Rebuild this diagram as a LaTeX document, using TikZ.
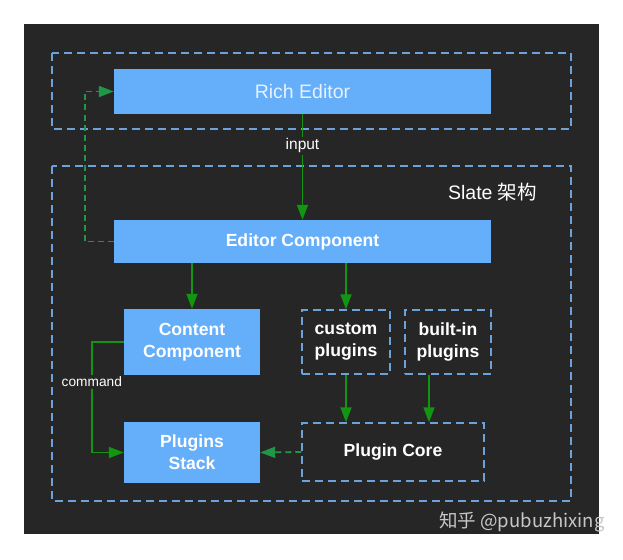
\documentclass[tikz,border=0pt]{standalone}
\usepackage{fontspec}
\setmainfont{Liberation Sans}
\newfontfamily\cjkfont{Noto Sans CJK SC}
\usepackage{xcolor}
\usetikzlibrary{arrows.meta,calc}

\definecolor{bgdark}{RGB}{38,38,38}
\definecolor{boxblue}{RGB}{100,174,250}
\definecolor{dashblue}{RGB}{108,162,218}
\definecolor{flowgreen}{RGB}{18,150,18}
\definecolor{backgreen}{RGB}{32,150,72}
\definecolor{softwhite}{RGB}{230,242,255}

\tikzset{
  bluebox/.style={fill=boxblue, draw=none, text=white, inner sep=0pt, align=center,
    font=\bfseries\fontsize{17.6}{22}\selectfont},
  dashbox/.style={draw=dashblue, line width=1.5, dash pattern=on 8pt off 5pt, text=white,
    inner sep=0pt, align=center, font=\bfseries\fontsize{17.6}{22}\selectfont},
  frame/.style={draw=dashblue, line width=1.5, dash pattern=on 8pt off 5pt},
  flow/.style={draw=flowgreen, line width=1.8, -{Triangle[length=15pt,width=11pt]}},
  backflow/.style={draw=backgreen, line width=1.8, dash pattern=on 6pt off 4pt,
    -{Triangle[length=15pt,width=11pt]}},
  lbl/.style={fill=bgdark, text=white, inner sep=2pt}
}

\begin{document}
\begin{tikzpicture}[x=1pt,y=1pt,yscale=-1]
\useasboundingbox (0,0) rectangle (623,559);

%Shape: Rectangle (background)
\draw [fill=bgdark, draw=black!85, line width=1] (24,25) rectangle (598,533);
%Shape: Rectangle (top frame)
\draw [frame] (52,53) rectangle (571,129);
%Shape: Rectangle (Slate frame)
\draw [frame] (52,166) rectangle (571,501);

% Text Node
\node [text=white, font=\fontsize{19.5}{22}\selectfont] (slate) at (492.5,192) {Slate {\cjkfont 架构}};

% Boxes
\node [bluebox, minimum width=377, minimum height=45, font=\fontsize{19.5}{22}\selectfont, text=softwhite] (rich) at (302.5,91.5) {Rich Editor};
\node [bluebox, minimum width=377, minimum height=43] (editor) at (302.5,241.5) {Editor Component};
\node [bluebox, minimum width=136, minimum height=66] (content) at (192,342) {Content\\Component};
\node [bluebox, minimum width=136, minimum height=61] (stack) at (192,452.5) {Plugins\\Stack};
\node [dashbox, minimum width=88, minimum height=64] (custom) at (346,342) {custom\\plugins};
\node [dashbox, minimum width=86, minimum height=64] (builtin) at (448,342) {built-in\\plugins};
\node [dashbox, minimum width=182, minimum height=58] (core) at (393,452) {Plugin Core};
\coordinate (binout) at ([xshift=-19pt]builtin.south);

%Straight Lines
\draw [flow] (rich.south) -- node [lbl, pos=0.3, font=\fontsize{15.5}{17}\selectfont] {input} (editor.north);
\draw [flow] (editor.south -| content.north) -- (content.north);
\draw [flow] (editor.south -| custom.north) -- (custom.north);
\draw [flow] (custom.south) -- (core.north -| custom.south);
\draw [flow] (binout) -- (core.north -| binout);
\draw [flow] (content.west) -- ++(-32,0) |- node [lbl, pos=0.18, font=\fontsize{13.7}{15}\selectfont] {command} (stack.west);
\draw [backflow] (core.west) -- (stack.east);
\draw [backflow] (editor.west) -- ++(-29,0) |- (rich.west);

% Text Node (watermark)
\node [text=black!22, font=\cjkfont\fontsize{18.5}{20}\selectfont, anchor=east] (mark) at (608,522) {知乎 @pubuzhixing};
\end{tikzpicture}
\end{document}
